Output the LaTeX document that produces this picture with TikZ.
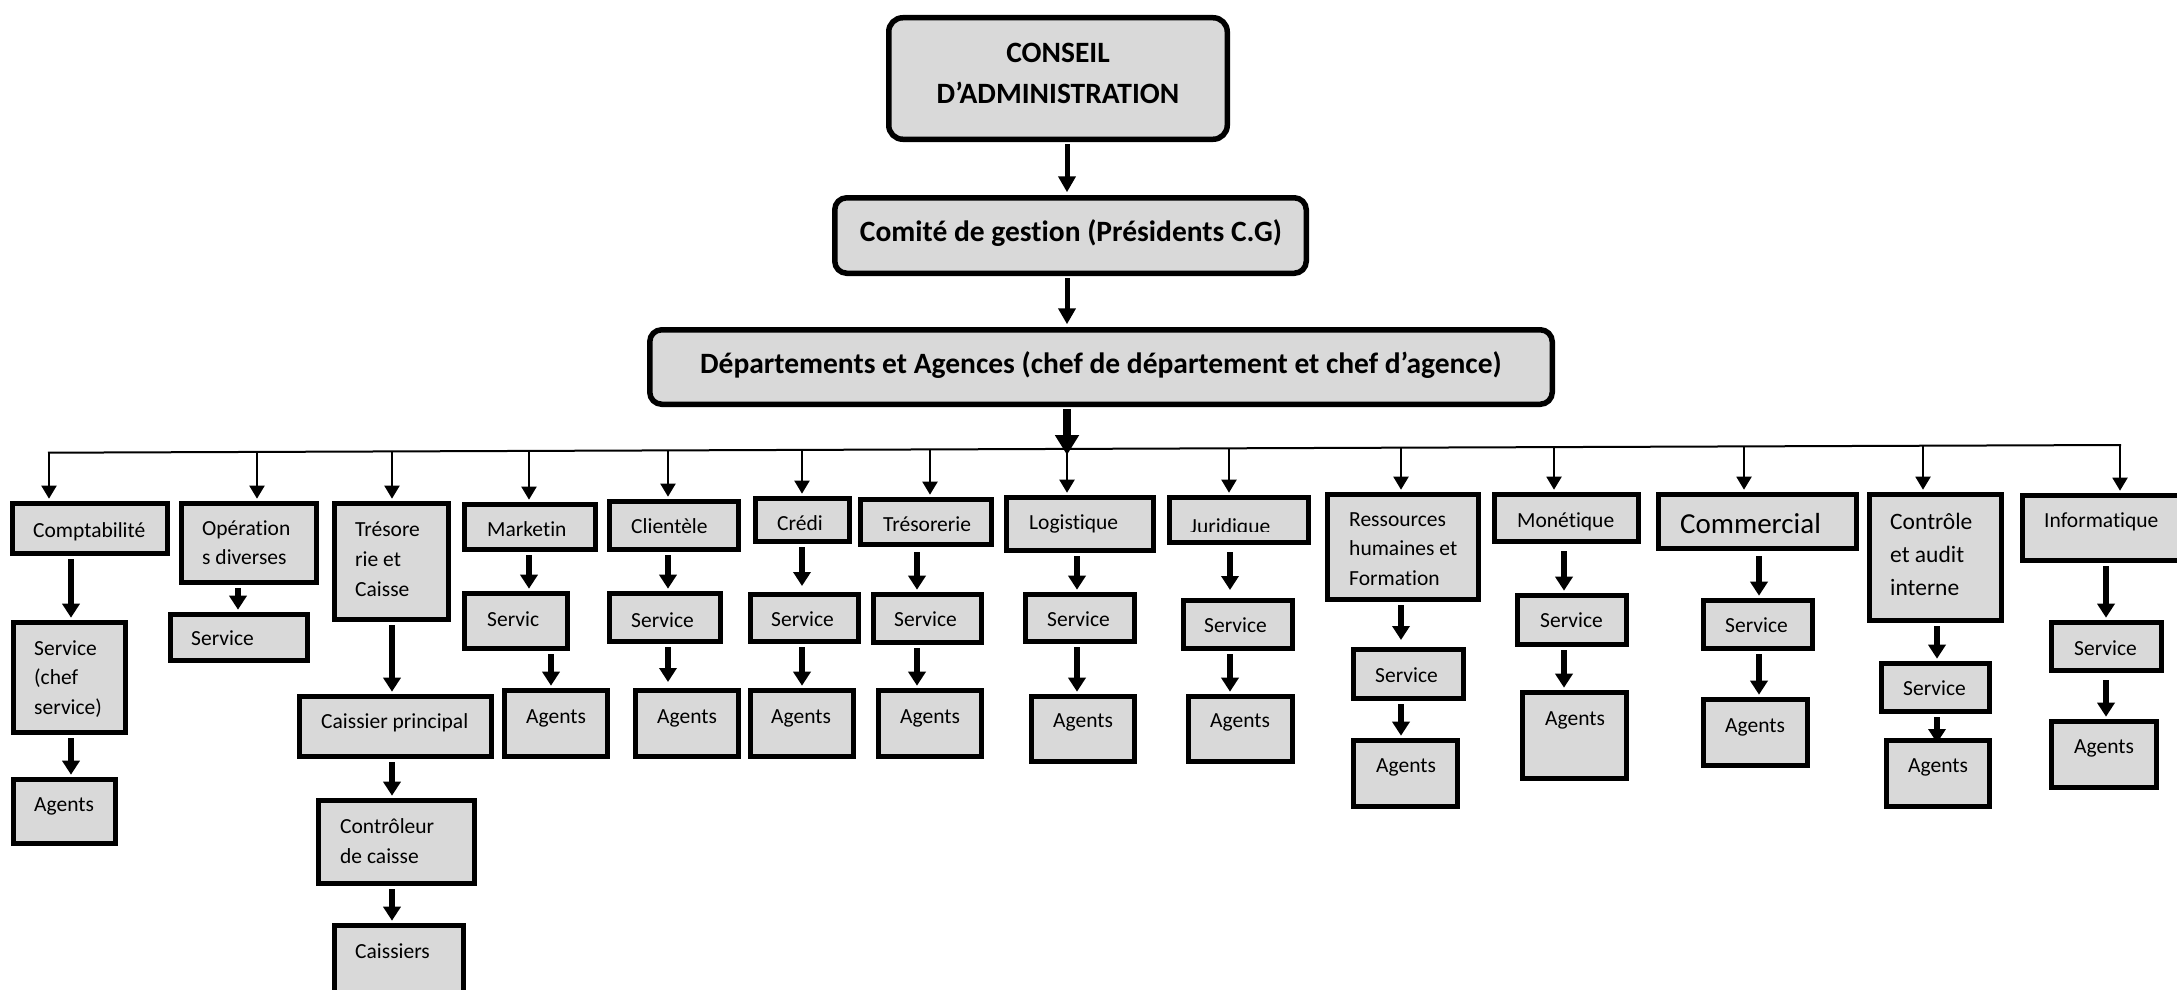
\documentclass[tikz,border=0pt]{standalone}
\usepackage{fontspec}
\setmainfont{Carlito}[Ligatures=NoCommon]
\usetikzlibrary{arrows.meta}
\definecolor{boxgray}{HTML}{D9D9D9}
\newcommand\bx[6][]{\node[bx,#1,minimum width={#5-#3-4.6},minimum height={#6-#4-4.6}] (#2) at ({(#3+#5)/2},{(#4+#6)/2}) {};}
\newcommand\tx[4][]{\node[txt,#1] (#2) at (#3) {#4};}
\newcommand\ML[1]{\vtop{\halign{##\hfil\cr#1\crcr}}}
\newcommand\MC[1]{\vtop{\halign{\hfil##\hfil\cr#1\crcr}}}
\tikzset{
  bx/.style={rectangle, draw=black, line width=4.6pt, fill=boxgray, inner sep=0pt},
  topbx/.style={rectangle, draw=black, line width=5.5pt, fill=boxgray, inner sep=0pt, rounded corners=14pt},
  txt/.style={anchor=base west, inner sep=0pt, font=\fontsize{21.5}{29.8}\selectfont},
  toptxt/.style={anchor=base, inner sep=0pt, font=\fontsize{29.5}{41}\selectfont\bfseries},
  tarr/.style={line width=5.5pt, -{Triangle[width=17pt,length=14pt]}, shorten <=3pt, shorten >=2.3pt},
  toparr/.style={line width=5pt, -{Triangle[width=17pt,length=16pt]}, shorten <=2pt, shorten >=2.75pt},
  barr/.style={line width=2pt, -{Triangle[width=15pt,length=13pt]}, shorten >=2.3pt},
  bus/.style={line width=2pt, line cap=rect},
  bigarr/.style={line width=8pt, -{Triangle[width=23pt,length=20pt]}, shorten <=2pt},
}
\begin{document}
\begin{tikzpicture}[x=1pt,y=-1pt]
\useasboundingbox (0,0) rectangle (2177,990);
\fill[white] (0,0) rectangle (2177,990);

% top hierarchy
\node[topbx, minimum width=338.5, minimum height=121.5] (conseil) at (1058,78.5) {};
\node[topbx, minimum width=471.5, minimum height=75.5, rounded corners=12pt] (comite) at (1070.5,235.5) {};
\node[topbx, minimum width=902.5, minimum height=74.5, rounded corners=12pt] (dept) at (1101,367) {};
\node[toptxt] (conseilT) at (1058,63) {\MC{CONSEIL\cr D’ADMINISTRATION}};
\node[toptxt] (comiteT) at (1071,241) {Comité de gestion (Présidents C.G)};
\node[toptxt] (deptT) at (1101,373) {Départements et Agences (chef de département et chef d’agence)};

\coordinate (xa) at (1067,0);
\draw[toparr] (conseil.south -| xa) -- (comite.north -| xa);
\draw[toparr] (comite.south -| xa) -- (dept.north -| xa);

% bus points
\coordinate (b1) at (49,452.7);
\coordinate (b2) at (257,451.9);
\coordinate (b3) at (392,451.4);
\coordinate (b4) at (529,450.9);
\coordinate (b5) at (668,450.4);
\coordinate (b6) at (802,449.9);
\coordinate (b7) at (930,449.4);
\coordinate (b8) at (1067,448.9);
\coordinate (b9) at (1229,448.3);
\coordinate (b10) at (1401,447.7);
\coordinate (b11) at (1554,447.1);
\coordinate (b12) at (1744,446.4);
\coordinate (b13) at (1923,445.7);
\coordinate (b14) at (2120,445);
\coordinate (ctip) at (1067,455);

% boxes
\bx{comp}{10}{501}{170}{556}
\bx{svcA}{11}{620}{128}{735}
\bx{agA}{11}{777}{118}{846}
\bx{oper}{179}{501}{319}{585}
\bx{svcB}{168}{612}{310}{663}
\bx{treso}{332}{501}{451}{622}
\bx{caisP}{297}{694}{494}{759}
\bx{ctrl}{316}{798}{477}{886}
\bx{caiss}{332}{923}{466}{1012}
\bx{mkt}{462}{502}{598}{552}
\bx{svcM}{462}{591}{570}{651}
\bx{agM}{502}{688}{610}{759}
\bx{cli}{607}{499}{741}{552}
\bx{svcC}{607}{591}{723}{644}
\bx{agC}{633}{688}{741}{759}
\bx{cre}{753}{496}{852}{544}
\bx{svcR}{748}{592}{861}{644}
\bx{agR}{748}{688}{856}{759}
\bx{tre}{858}{497}{994}{547}
\bx{svcT}{871}{592}{984}{645}
\bx{agT}{876}{688}{984}{759}
\bx{log}{1004}{495}{1156}{553}
\bx{svcL}{1023}{592}{1137}{644}
\bx{agL}{1029}{694}{1137}{764}
\bx{jur}{1167}{495}{1311}{545}
\bx{svcJ}{1181}{598}{1295}{651}
\bx{agJ}{1186}{694}{1295}{764}
\bx{res}{1325}{492}{1481}{602}
\bx{svcS}{1351}{647}{1466}{701}
\bx{agS}{1351}{738}{1460}{809}
\bx{mon}{1492}{492}{1641}{544}
\bx{svcN}{1515}{593}{1629}{647}
\bx{agN}{1520}{690}{1629}{781}
\bx{com}{1656}{492}{1859}{551}
\bx{svcO}{1701}{598}{1815}{651}
\bx{agO}{1701}{697}{1810}{768}
\bx{con}{1867}{492}{2004}{623}
\bx{svcK}{1879}{661}{1992}{714}
\bx{agK}{1884}{738}{1992}{809}
\bx{inf}{2020}{493}{2200}{563}
\bx{svcI}{2049}{620}{2164}{673}
\bx{agI}{2049}{719}{2159}{790}

% texts
\tx{compT}{33,537}{Comptabilité}
\tx{svcAT}{34,655}{\ML{Service\cr(chef\cr service)}}
\tx{agAT}{34,811}{Agents}
\tx{operT}{202,535}{\ML{Opération\cr s diverses}}
\tx{svcBT}{191,645}{Service}
\tx{tresoT}{355,536.5}{\ML{Trésore\cr rie et\cr Caisse}}
\tx{caisPT}{321,728}{Caissier principal}
\tx{ctrlT}{340,833.5}{\ML{Contrôleur\cr de caisse}}
\tx{caissT}{355,958}{Caissiers}
\tx{mktT}{487,536}{Marketin}
\tx{svcMT}{487,626}{Servic}
\tx{agMT}{526,723}{Agents}
\tx{cliT}{631,533}{Clientèle}
\tx{svcCT}{631,627}{Service}
\tx{agCT}{657,723}{Agents}
\tx{creT}{777,530}{Crédi}
\tx{svcRT}{771,626}{Service}
\tx{agRT}{771,723}{Agents}
\tx{treT}{883,531}{Trésorerie}
\tx{svcTT}{894,626}{Service}
\tx{agTT}{900,723}{Agents}
\tx{logT}{1029,529}{Logistique}
\tx{svcLT}{1047,626}{Service}
\tx{agLT}{1053,727}{Agents}
\begin{scope}
\clip (1167,495) rectangle (1311,531);
\tx{jurT}{1190,533}{Juridique}
\end{scope}
\tx{svcJT}{1204,632}{Service}
\tx{agJT}{1210,727}{Agents}
\tx{resT}{1349,526}{\ML{Ressources\cr humaines et\cr Formation}}
\tx{svcST}{1375,682}{Service}
\tx{agST}{1376,772}{Agents}
\tx{monT}{1517,527}{Monétique}
\tx{svcNT}{1540,627}{Service}
\tx{agNT}{1545,725}{Agents}
\tx[font=\fontsize{29}{35}\selectfont]{comT}{1680,533}{Commercial}
\tx{svcOT}{1725,632}{Service}
\tx{agOT}{1725,732}{Agents}
\tx[font=\fontsize{23.5}{33}\selectfont]{conT}{1890,529}{\ML{Contrôle\cr et audit\cr interne}}
\tx{svcKT}{1903,695}{Service}
\tx{agKT}{1908,772}{Agents}
\tx{infT}{2044,527}{Informatique}
\tx{svcIT}{2074,655}{Service}
\tx{agIT}{2074,753}{Agents}

% bus and drops
\draw[bus] (b1) -- (b14);
\draw[bigarr] (dept.south -| ctip) -- (ctip);
\draw[barr] (b1) -- (b1 |- comp.north);
\draw[barr] (b2) -- (b2 |- oper.north);
\draw[barr] (b3) -- (b3 |- treso.north);
\draw[barr] (b4) -- (b4 |- mkt.north);
\draw[barr] (b5) -- (b5 |- cli.north);
\draw[barr] (b6) -- (b6 |- cre.north);
\draw[barr] (b7) -- (b7 |- tre.north);
\draw[barr] (b8) -- (b8 |- log.north);
\draw[barr] (b9) -- (b9 |- jur.north);
\draw[barr] (b10) -- (b10 |- res.north);
\draw[barr] (b11) -- (b11 |- mon.north);
\draw[barr] (b12) -- (b12 |- com.north);
\draw[barr] (b13) -- (b13 |- con.north);
\draw[barr] (b14) -- (b14 |- inf.north);

% column x positions
\coordinate (x71) at (71,0);
\coordinate (x238) at (238,0);
\coordinate (x392) at (392,0);
\coordinate (x529) at (529,0);
\coordinate (x551) at (551,0);
\coordinate (x668) at (668,0);
\coordinate (x802) at (802,0);
\coordinate (x917) at (917,0);
\coordinate (x1077) at (1077,0);
\coordinate (x1230) at (1230,0);
\coordinate (x1401) at (1401,0);
\coordinate (x1564) at (1564,0);
\coordinate (x1759) at (1759,0);
\coordinate (x1937) at (1937,0);
\coordinate (x2106) at (2106,0);

% box-to-box arrows
\draw[tarr] (comp.south -| x71) -- (svcA.north -| x71);
\draw[tarr] (svcA.south -| x71) -- (agA.north -| x71);
\draw[tarr] (oper.south -| x238) -- (svcB.north -| x238);
\draw[tarr] (treso.south -| x392) -- (caisP.north -| x392);
\draw[tarr] (caisP.south -| x392) -- (ctrl.north -| x392);
\draw[tarr] (ctrl.south -| x392) -- (caiss.north -| x392);
\draw[tarr] (mkt.south -| x529) -- (svcM.north -| x529);
\draw[tarr] (svcM.south -| x551) -- (agM.north -| x551);
\draw[tarr] (cli.south -| x668) -- (svcC.north -| x668);
\draw[tarr, shorten >=6pt] (svcC.south -| x668) -- (agC.north -| x668);
\draw[tarr, shorten >=6pt] (cre.south -| x802) -- (svcR.north -| x802);
\draw[tarr] (svcR.south -| x802) -- (agR.north -| x802);
\draw[tarr, shorten <=5pt] (tre.south -| x917) -- (svcT.north -| x917);
\draw[tarr] (svcT.south -| x917) -- (agT.north -| x917);
\draw[tarr] (log.south -| x1077) -- (svcL.north -| x1077);
\draw[tarr] (svcL.south -| x1077) -- (agL.north -| x1077);
\draw[tarr, shorten <=7pt, shorten >=8pt] (jur.south -| x1230) -- (svcJ.north -| x1230);
\draw[tarr] (svcJ.south -| x1230) -- (agJ.north -| x1230);
\draw[tarr, shorten >=7pt] (res.south -| x1401) -- (svcS.north -| x1401);
\draw[tarr] (svcS.south -| x1401) -- (agS.north -| x1401);
\draw[tarr, shorten <=7pt] (mon.south -| x1564) -- (svcN.north -| x1564);
\draw[tarr] (svcN.south -| x1564) -- (agN.north -| x1564);
\draw[tarr, shorten <=5pt] (com.south -| x1759) -- (svcO.north -| x1759);
\draw[tarr] (svcO.south -| x1759) -- (agO.north -| x1759);
\draw[tarr] (con.south -| x1937) -- (svcK.north -| x1937);
\draw[tarr, shorten >=-5pt] (svcK.south -| x1937) -- (agK.north -| x1937);
\draw[tarr] (inf.south -| x2106) -- (svcI.north -| x2106);
\draw[tarr, shorten <=7pt] (svcI.south -| x2106) -- (agI.north -| x2106);
\end{tikzpicture}
\end{document}
